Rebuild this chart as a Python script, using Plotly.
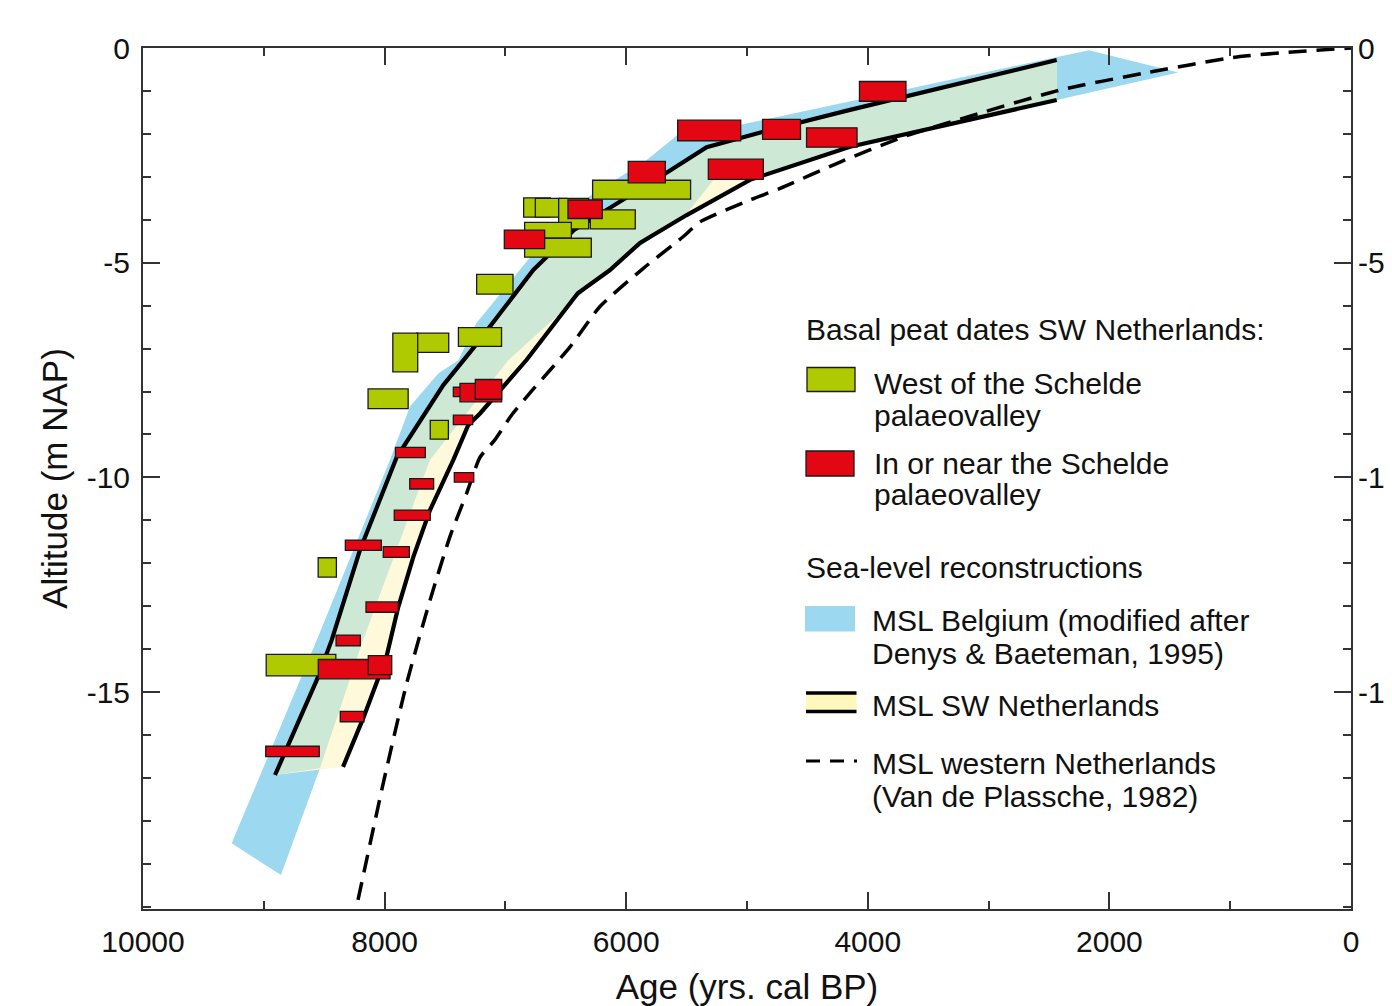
import numpy as np
import plotly.graph_objects as go

# ---------------- data ----------------
# Basal peat dates, west of the Schelde palaeovalley (age range yrs cal BP, altitude range m NAP)
green_age_old = [6278, 6849, 6752, 6559, 6841, 6841, 6297, 7238, 7389, 7734, 7932, 8137, 7622, 8550, 8980]
green_age_young = [5467, 6628, 6490, 6311, 6454, 6289, 5925, 6937, 7032, 7469, 7726, 7805, 7472, 8399, 8404]
green_alt_top = [-3.08, -3.49, -3.50, -3.50, -4.06, -4.43, -3.77, -5.27, -6.51, -6.64, -6.64, -7.94, -8.67, -11.87, -14.12]
green_alt_bot = [-3.52, -3.94, -3.94, -4.21, -4.43, -4.87, -4.21, -5.73, -6.95, -7.09, -7.54, -8.40, -9.11, -12.32, -14.62]

# Basal peat dates, in or near the Schelde palaeovalley
red_age_old = [4069, 5574, 4871, 4507, 5983, 5320, 6482, 7009, 7431, 7376, 7249, 7431, 7910, 7792, 7423, 7920,
               8325, 8011, 8154, 8402, 8549, 8135, 8367, 8984]
red_age_young = [3684, 5052, 4557, 4089, 5676, 4865, 6198, 6675, 7272, 7031, 7031, 7271, 7663, 7594, 7262, 7622,
                 8027, 7795, 7887, 8201, 7955, 7941, 8171, 8541]
red_alt_top = [-0.78, -1.68, -1.66, -1.86, -2.64, -2.59, -3.54, -4.24, -7.90, -7.81, -7.72, -8.55, -9.30, -10.03,
               -9.89, -10.76, -11.46, -11.61, -12.90, -13.67, -14.24, -14.15, -15.45, -16.26]
red_alt_bot = [-1.24, -2.16, -2.13, -2.31, -3.14, -3.06, -3.97, -4.67, -8.12, -8.24, -8.18, -8.77, -9.54, -10.27,
               -10.11, -11.00, -11.70, -11.86, -13.14, -13.92, -14.69, -14.59, -15.69, -16.50]

# MSL SW Netherlands: upper and lower bounding lines
sw_upper_age = [8907, 8562, 8438, 8204, 7900, 7514, 7257, 6769, 6432, 6134, 5679, 5334, 4865, 4147, 2436]
sw_upper_alt = [-16.93, -14.72, -13.79, -11.69, -9.53, -7.85, -6.96, -5.17, -4.24, -3.73, -2.93, -2.31, -1.95, -1.44, -0.28]
sw_lower_age = [8344, 8176, 7983, 7887, 7762, 7624, 7431, 7307, 7210, 6824, 6401, 6134, 5886, 5499, 4975, 4147, 2436]
sw_lower_alt = [-16.74, -15.60, -14.16, -13.02, -11.85, -10.76, -9.59, -8.78, -8.51, -7.26, -5.71, -5.17, -4.54, -3.89, -3.07, -2.30, -1.21]

# MSL Belgium (Denys & Baeteman 1995, modified): upper edge (to the tip) and lower edge (back down)
bel_upper_age = [9266, 8562, 7955, 7790, 7556, 7390, 7241, 6702, 6306, 5830, 5579, 5052, 4230, 2169, 1430]
bel_upper_alt = [-18.52, -13.79, -9.59, -8.35, -7.58, -7.27, -6.41, -4.55, -3.46, -2.61, -2.03, -1.79, -1.29, -0.05, -0.57]
bel_lower_age = [2436, 4147, 4868, 5224, 5499, 6134, 6976, 7624, 8179, 8535, 8858]
bel_lower_alt = [-1.21, -2.32, -2.98, -2.89, -3.85, -5.12, -7.27, -9.59, -13.79, -16.77, -19.26]

# MSL western Netherlands (Van de Plassche 1982)
vdp_age = [8220, 8011, 7817, 7624, 7459, 7321, 7210, 7094, 6954, 6805, 6465, 6217, 5858, 5527, 5389, 4975, 4727,
           4258, 3707, 3264, 2409, 1719, 919, 0]
vdp_alt = [-19.84, -17.12, -14.79, -12.86, -11.38, -10.37, -9.53, -9.15, -8.57, -8.06, -6.96, -6.02, -5.13, -4.39,
           -4.05, -3.54, -3.27, -2.69, -2.07, -1.68, -0.98, -0.59, -0.20, 0.0]

x_ticks = [10000, 8000, 6000, 4000, 2000, 0]
x_ticktext = ["10000", "8000", "6000", "4000", "2000", "0"]
y_ticks = [0, -5, -10, -15]
y_ticktext = ["0", "-5", "-10", "-15"]

# ---------------- styling ----------------
# the page body adds an 8 px offset, so the figure is 8 px smaller and shifted
OFF = 8
W, H = 1392 - OFF, 1006 - OFF
ML, MR, MT, MB = 143 - OFF, 41, 48 - OFF, 97
PW, PH = W - ML - MR, H - MT - MB
FONT = "Liberation Sans, Arial, Helvetica, sans-serif"
C_BLUE = "#9dd8f1"
C_YEL = "#fef9da"
C_GRN_BAND = "#cde8d4"
C_GREEN = "#afca00"
C_RED = "#e30613"
C_AX = "#333333"
C_EDGE = "#1a1a1a"


def pxx(x):
    # x given in reference-page pixels
    return (x - OFF - ML) / PW


def pxy(y):
    return (H - MB - (y - OFF)) / PH


fig = go.Figure()

# Belgium band (blue)
fig.add_trace(go.Scatter(x=bel_upper_age + bel_lower_age, y=bel_upper_alt + bel_lower_alt,
                         fill="toself", fillcolor=C_BLUE, mode="none", hoverinfo="skip"))
# SW Netherlands band (yellow)
fig.add_trace(go.Scatter(x=sw_upper_age + sw_lower_age[::-1], y=sw_upper_alt + sw_lower_alt[::-1],
                         fill="toself", fillcolor=C_YEL, mode="none", hoverinfo="skip"))

# overlap of both bands (green): below upper SW line, above max(lower SW line, lower Belgium edge)
bl_age = np.array(bel_lower_age, float)
bl_alt = np.array(bel_lower_alt, float)
sl_age = np.array(sw_lower_age[::-1], float)
sl_alt = np.array(sw_lower_alt[::-1], float)
end_age = bel_lower_age[-2]
grid = np.unique(np.concatenate([np.linspace(sw_upper_age[-1], end_age, 600), bl_age[bl_age <= end_age]]))
b_vals = np.interp(grid, bl_age, bl_alt)
s_vals = np.where(grid <= sl_age.max(), np.interp(grid, sl_age, sl_alt), -99)
low_edge = np.maximum(b_vals, s_vals)
ov_x = list(sw_upper_age) + list(grid)
ov_y = list(sw_upper_alt) + list(low_edge)
fig.add_trace(go.Scatter(x=ov_x, y=ov_y, fill="toself", fillcolor=C_GRN_BAND, mode="none", hoverinfo="skip"))

# SW Netherlands lines
for ax_, ay_ in [(sw_upper_age, sw_upper_alt), (sw_lower_age, sw_lower_alt)]:
    fig.add_trace(go.Scatter(x=ax_, y=ay_, mode="lines", line=dict(color="black", width=4.2), hoverinfo="skip"))

# Van de Plassche dashed line
fig.add_trace(go.Scatter(x=vdp_age, y=vdp_alt, mode="lines",
                         line=dict(color="black", width=3.5, dash="18px,10px", shape="spline", smoothing=0.6),
                         hoverinfo="skip"))

# invisible trace to activate the right-hand axis
fig.add_trace(go.Scatter(x=[x_ticks[0]], y=[y_ticks[0]], yaxis="y2", mode="markers",
                         marker=dict(opacity=0), hoverinfo="skip"))

shapes = []
for x0, x1, y0, y1 in zip(green_age_old, green_age_young, green_alt_top, green_alt_bot):
    shapes.append(dict(type="rect", xref="x", yref="y", x0=x0, x1=x1, y0=y0, y1=y1,
                       fillcolor=C_GREEN, line=dict(color=C_EDGE, width=1.3), layer="above"))
for x0, x1, y0, y1 in zip(red_age_old, red_age_young, red_alt_top, red_alt_bot):
    shapes.append(dict(type="rect", xref="x", yref="y", x0=x0, x1=x1, y0=y0, y1=y1,
                       fillcolor=C_RED, line=dict(color=C_EDGE, width=1.3), layer="above"))

# ---------------- custom legend ----------------
def prect(x0, y0, x1, y1, fill, line=None):
    d = dict(type="rect", xref="paper", yref="paper", x0=pxx(x0), x1=pxx(x1), y0=pxy(y0), y1=pxy(y1),
             fillcolor=fill, layer="above")
    d["line"] = line if line else dict(width=0)
    return d


def pline(x0, y0, x1, y1, width, dash="solid"):
    return dict(type="line", xref="paper", yref="paper", x0=pxx(x0), x1=pxx(x1), y0=pxy(y0), y1=pxy(y1),
                line=dict(color="black", width=width, dash=dash), layer="above")


shapes += [
    prect(807, 367.5, 855, 391.5, C_GREEN, dict(color=C_EDGE, width=1.3)),
    prect(806, 451, 854, 476, C_RED, dict(color=C_EDGE, width=1.3)),
    prect(805, 606, 855, 631.5, C_BLUE),
    prect(806, 693, 856.5, 712, "#fff7bb"),
    pline(806, 693, 856.5, 693, 3.5),
    pline(806, 711.5, 856.5, 711.5, 3.5),
    pline(806, 761, 857, 761, 3, "14px,10px"),
]

annotations = []


def txt(s, x, y, size=30):
    annotations.append(dict(text=s, xref="paper", yref="paper", x=pxx(x), y=pxy(y), xanchor="left",
                            yanchor="middle", showarrow=False, font=dict(family=FONT, size=size, color="#111")))


txt("Basal peat dates SW Netherlands:", 804, 329.5)
txt("West of the Schelde", 871.5, 383.5)
txt("palaeovalley", 871.5, 415.5)
txt("In or near the Schelde", 871.5, 463)
txt("palaeovalley", 871.5, 495)
txt("Sea-level reconstructions", 804, 567.5)
txt("MSL Belgium (modified after", 870, 620.5)
txt("Denys & Baeteman, 1995)", 870, 653)
txt("MSL SW Netherlands", 870, 705.5)
txt("MSL western Netherlands", 870, 763)
txt("(Van de Plassche, 1982)", 870, 796.5)

axis_common = dict(showgrid=False, zeroline=False, automargin=False,
                   tickfont=dict(family=FONT, size=30, color="#111"))

fig.update_layout(
    width=W, height=H, autosize=False,
    margin=dict(l=ML, r=MR, t=MT, b=MB, pad=0),
    template="none",
    paper_bgcolor="white", plot_bgcolor="white",
    showlegend=False,
    font=dict(family=FONT, size=30, color="#111"),
    shapes=shapes,
    annotations=annotations,
    xaxis=dict(range=[10000, 0], tickmode="array", tickvals=x_ticks, ticktext=x_ticktext,
               ticks="inside", ticklen=17, tickwidth=1.5, tickcolor=C_AX,
               showline=True, linecolor=C_AX, linewidth=2, mirror="ticks",
               minor=dict(dtick=1000, tick0=0, ticks="inside", ticklen=8, tickwidth=1.5, tickcolor=C_AX),
               ticklabelstandoff=5,
               title=dict(text="Age (yrs. cal BP)", font=dict(family=FONT, size=35, color="#111"), standoff=26),
               **axis_common),
    yaxis=dict(range=[-20.05, 0], tickmode="array", tickvals=y_ticks, ticktext=y_ticktext,
               ticks="inside", ticklen=17, tickwidth=1.5, tickcolor=C_AX,
               showline=True, linecolor=C_AX, linewidth=2, mirror="ticks",
               minor=dict(dtick=1, tick0=0, ticks="inside", ticklen=8, tickwidth=1.5, tickcolor=C_AX),
               ticklabelstandoff=5,
               title=dict(text="Altitude (m NAP)", font=dict(family=FONT, size=35, color="#111"), standoff=8),
               **axis_common),
    yaxis2=dict(range=[-20.05, 0], overlaying="y", side="right", tickmode="array", tickvals=y_ticks,
                ticktext=y_ticktext, ticks="", showline=False, ticklabelstandoff=6, **axis_common),
)

fig.write_html("out.html")
